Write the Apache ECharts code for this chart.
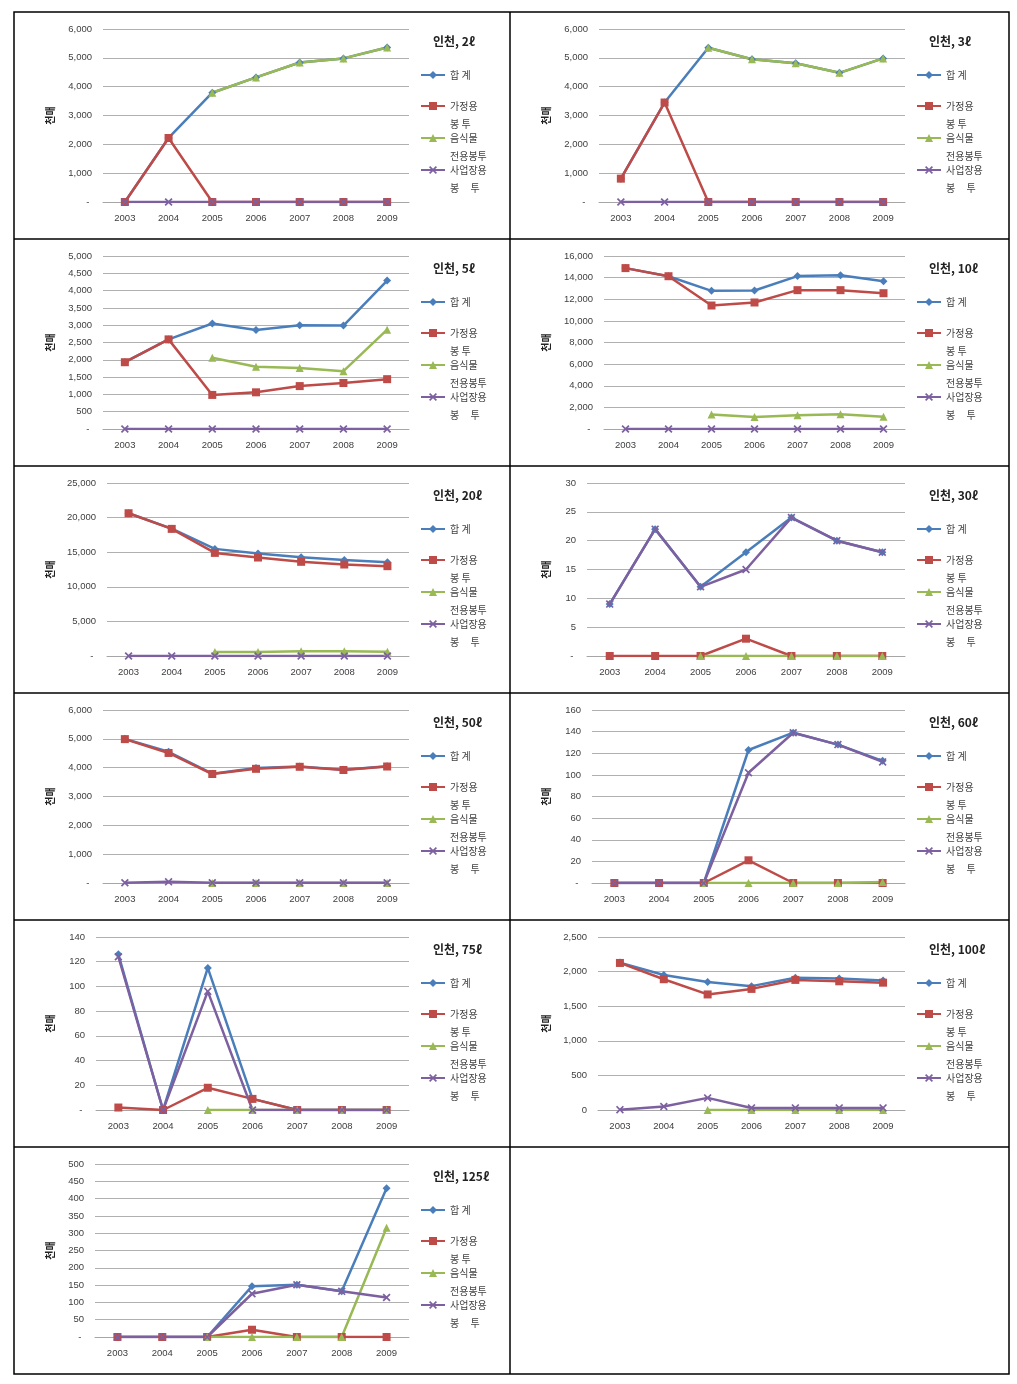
<!DOCTYPE html>
<html><head><meta charset="utf-8">
<script src="https://cdn.jsdelivr.net/npm/echarts/dist/echarts.min.js"></script>
<style>html,body{margin:0;padding:0;background:#fff}#c{width:1017px;height:1384px}</style>
</head><body><div id="c"></div>
<script>
// ---------- data ----------
const years = ['2003','2004','2005','2006','2007','2008','2009'];
const panelTitles = ['인천, 2ℓ','인천, 3ℓ','인천, 5ℓ','인천, 10ℓ','인천, 20ℓ','인천, 30ℓ','인천, 50ℓ','인천, 60ℓ','인천, 75ℓ','인천, 100ℓ','인천, 125ℓ'];
const seriesNames = ['합 계','가정용 봉투','음식물 전용봉투','사업장용 봉투'];
const yUnit = '천매';
const yMax  = [6000,6000,5000,16000,25000,30,6000,160,140,2500,500];
const yStep = [1000,1000,500,2000,5000,5,1000,20,20,500,50];
const zeroTick = ['-','-','-','-','-','-','-','-','-','0','-'];

// 합 계
const totalBags = [
  [0,2220,3790,4320,4840,4980,5360],
  [810,3450,5350,4950,4810,4480,4980],
  [1930,2590,3050,2860,3000,2990,4290],
  [14880,14130,12780,12810,14140,14230,13670],
  [20630,18400,15480,14810,14280,13890,13560],
  [9,22,12,18,24,20,18],
  [5000,4550,3790,3990,4040,3930,4050],
  [0,0,0,123,139,128,113],
  [126,0,115,9,0,0,0],
  [2130,1950,1850,1790,1910,1900,1870],
  [0,0,0,147,151,132,430]
];
// 가정용 봉투
const householdBags = [
  [0,2220,0,0,0,0,0],
  [810,3450,0,0,0,0,0],
  [1930,2590,985,1060,1240,1330,1440],
  [14880,14130,11420,11700,12840,12840,12560],
  [20630,18370,14900,14230,13610,13220,12980],
  [0,0,0,3,0,0,0],
  [4990,4510,3780,3960,4030,3920,4040],
  [0,0,0,21,0,0,0],
  [2,0,18,9,0,0,0],
  [2125,1890,1670,1750,1880,1860,1840],
  [0,0,0,21,0,0,0]
];
// 음식물 전용봉투
const foodBags = [
  [null,null,3790,4320,4840,4980,5360],
  [null,null,5350,4950,4810,4480,4980],
  [null,null,2060,1800,1760,1670,2870],
  [null,null,1330,1110,1270,1360,1140],
  [null,null,580,580,670,670,600],
  [null,null,0,0,0,0,0],
  [null,null,0,0,0,0,0],
  [null,null,0,0,0,0,1],
  [null,null,0,0,0,0,0],
  [null,null,0,0,0,0,0],
  [null,null,0,0,0,0,316]
];
// 사업장용 봉투
const businessBags = [
  [0,0,0,0,0,0,0],
  [0,0,0,0,0,0,0],
  [0,0,0,0,0,0,0],
  [0,0,0,0,0,0,0],
  [0,0,0,0,0,0,0],
  [9,22,12,15,24,20,18],
  [10,40,10,10,10,10,10],
  [0,0,0,102,139,128,112],
  [124,0,96,0,0,0,0],
  [5,50,175,30,30,30,30],
  [0,0,0,125,151,132,114]
];
const allSeries = [totalBags, householdBags, foodBags, businessBags];

// ---------- layout / style ----------
const FONT = '"Liberation Sans","Noto Sans CJK KR",sans-serif';
const KFONT = '"Noto Sans CJK KR","Liberation Sans",sans-serif';
const COLORS = ['#4A7EBB','#BE4B48','#98B954','#7D60A0'];
const XSYM = 'path://M0,1.5L1.5,0L5,3.5L8.5,0L10,1.5L6.5,5L10,8.5L8.5,10L5,6.5L1.5,10L0,8.5L3.5,5Z';
const SYMBOLS = ['diamond','rect','triangle',XSYM];
const SYMSIZE = [8,8,8,8];
const cellX = [14,510];
const cellY = [12,239,466,693,920,1147];
const plotLeft = [89,89,89,94,93,77,89,82,82,88,81];
const legendText = {
  '합 계':'합 계',
  '가정용 봉투':'\n가정용\n봉 투',
  '음식물 전용봉투':'\n음식물\n전용봉투',
  '사업장용 봉투':'\n사업장용\n봉     투'
};
const legendMarkY = [63,94,126,158];

const grid=[], xAxis=[], yAxis=[], series=[], title=[], legend=[];
panelTitles.forEach((t,i)=>{
  const cx = cellX[i%2], cy = cellY[Math.floor(i/2)];
  const pl = plotLeft[i];
  grid.push({left:cx+pl, top:cy+17, width:395-pl, height:173, outerBoundsMode:'none'});
  xAxis.push({gridIndex:i, type:'category', data:years, boundaryGap:true,
    axisLine:{lineStyle:{color:'#a6a6a6',width:1}}, axisTick:{show:false},
    axisLabel:{fontSize:9.5, color:'#404040', margin:12, interval:0, fontFamily:FONT}});
  yAxis.push({gridIndex:i, type:'value', min:0, max:yMax[i], interval:yStep[i],
    axisLine:{show:false}, axisTick:{show:false},
    splitLine:{lineStyle:{color:'#b0b0b0',width:1}},
    axisLabel:{fontSize:9.5, color:'#404040', margin:11, fontFamily:FONT,
      formatter:(v)=> v===0 ? (zeroTick[i]==='-' ? '- ' : zeroTick[i]) : v.toLocaleString('en-US')},
    name:yUnit, nameLocation:'middle', nameGap:pl-41,
    nameTextStyle:{fontWeight:'bold', fontSize:10, color:'#222', fontFamily:KFONT}});
  title.push({text:t, left:cx+419, top:cy+23, padding:0,
    textStyle:{fontSize:12, fontWeight:'bold', color:'#222', fontFamily:KFONT}});
  seriesNames.forEach((n,s)=>{
    series.push({type:'line', name:n, xAxisIndex:i, yAxisIndex:i,
      data:allSeries[s][i], symbol:SYMBOLS[s], symbolSize:SYMSIZE[s],
      showAllSymbol:true, connectNulls:false,
      lineStyle:{width:2.5,color:COLORS[s]}, itemStyle:{color:COLORS[s]},
      emphasis:{disabled:true}, silent:true});
    const lbl = legendText[n];
    const twoLine = lbl.indexOf('\n')===0;
    legend.push({data:[n], left:cx+406, top:cy+legendMarkY[s]-(twoLine?22:4)-5,
      orient:'vertical', padding:0, itemWidth:24, itemHeight:10, selectedMode:false,
      formatter:()=>lbl,
      textStyle:{fontSize:10, lineHeight:18, color:'#444', fontFamily:KFONT}});
  });
});

const graphic = [
  {type:'rect', shape:{x:14,y:12,width:995,height:1362}, style:{fill:'none',stroke:'#000',lineWidth:1.5}, silent:true},
  {type:'line', shape:{x1:510,y1:12,x2:510,y2:1374}, style:{stroke:'#000',lineWidth:1.5}, silent:true}
];
[239,466,693,920,1147].forEach(y=>graphic.push({type:'line', shape:{x1:14,y1:y,x2:1009,y2:y}, style:{stroke:'#000',lineWidth:1.5}, silent:true}));

const chart = echarts.init(document.getElementById('c'), null, {renderer:'canvas'});
chart.setOption({animation:false, backgroundColor:'#fff', textStyle:{fontFamily:FONT},
  grid, xAxis, yAxis, series, title, legend, graphic, tooltip:{show:false}});
</script></body></html>
